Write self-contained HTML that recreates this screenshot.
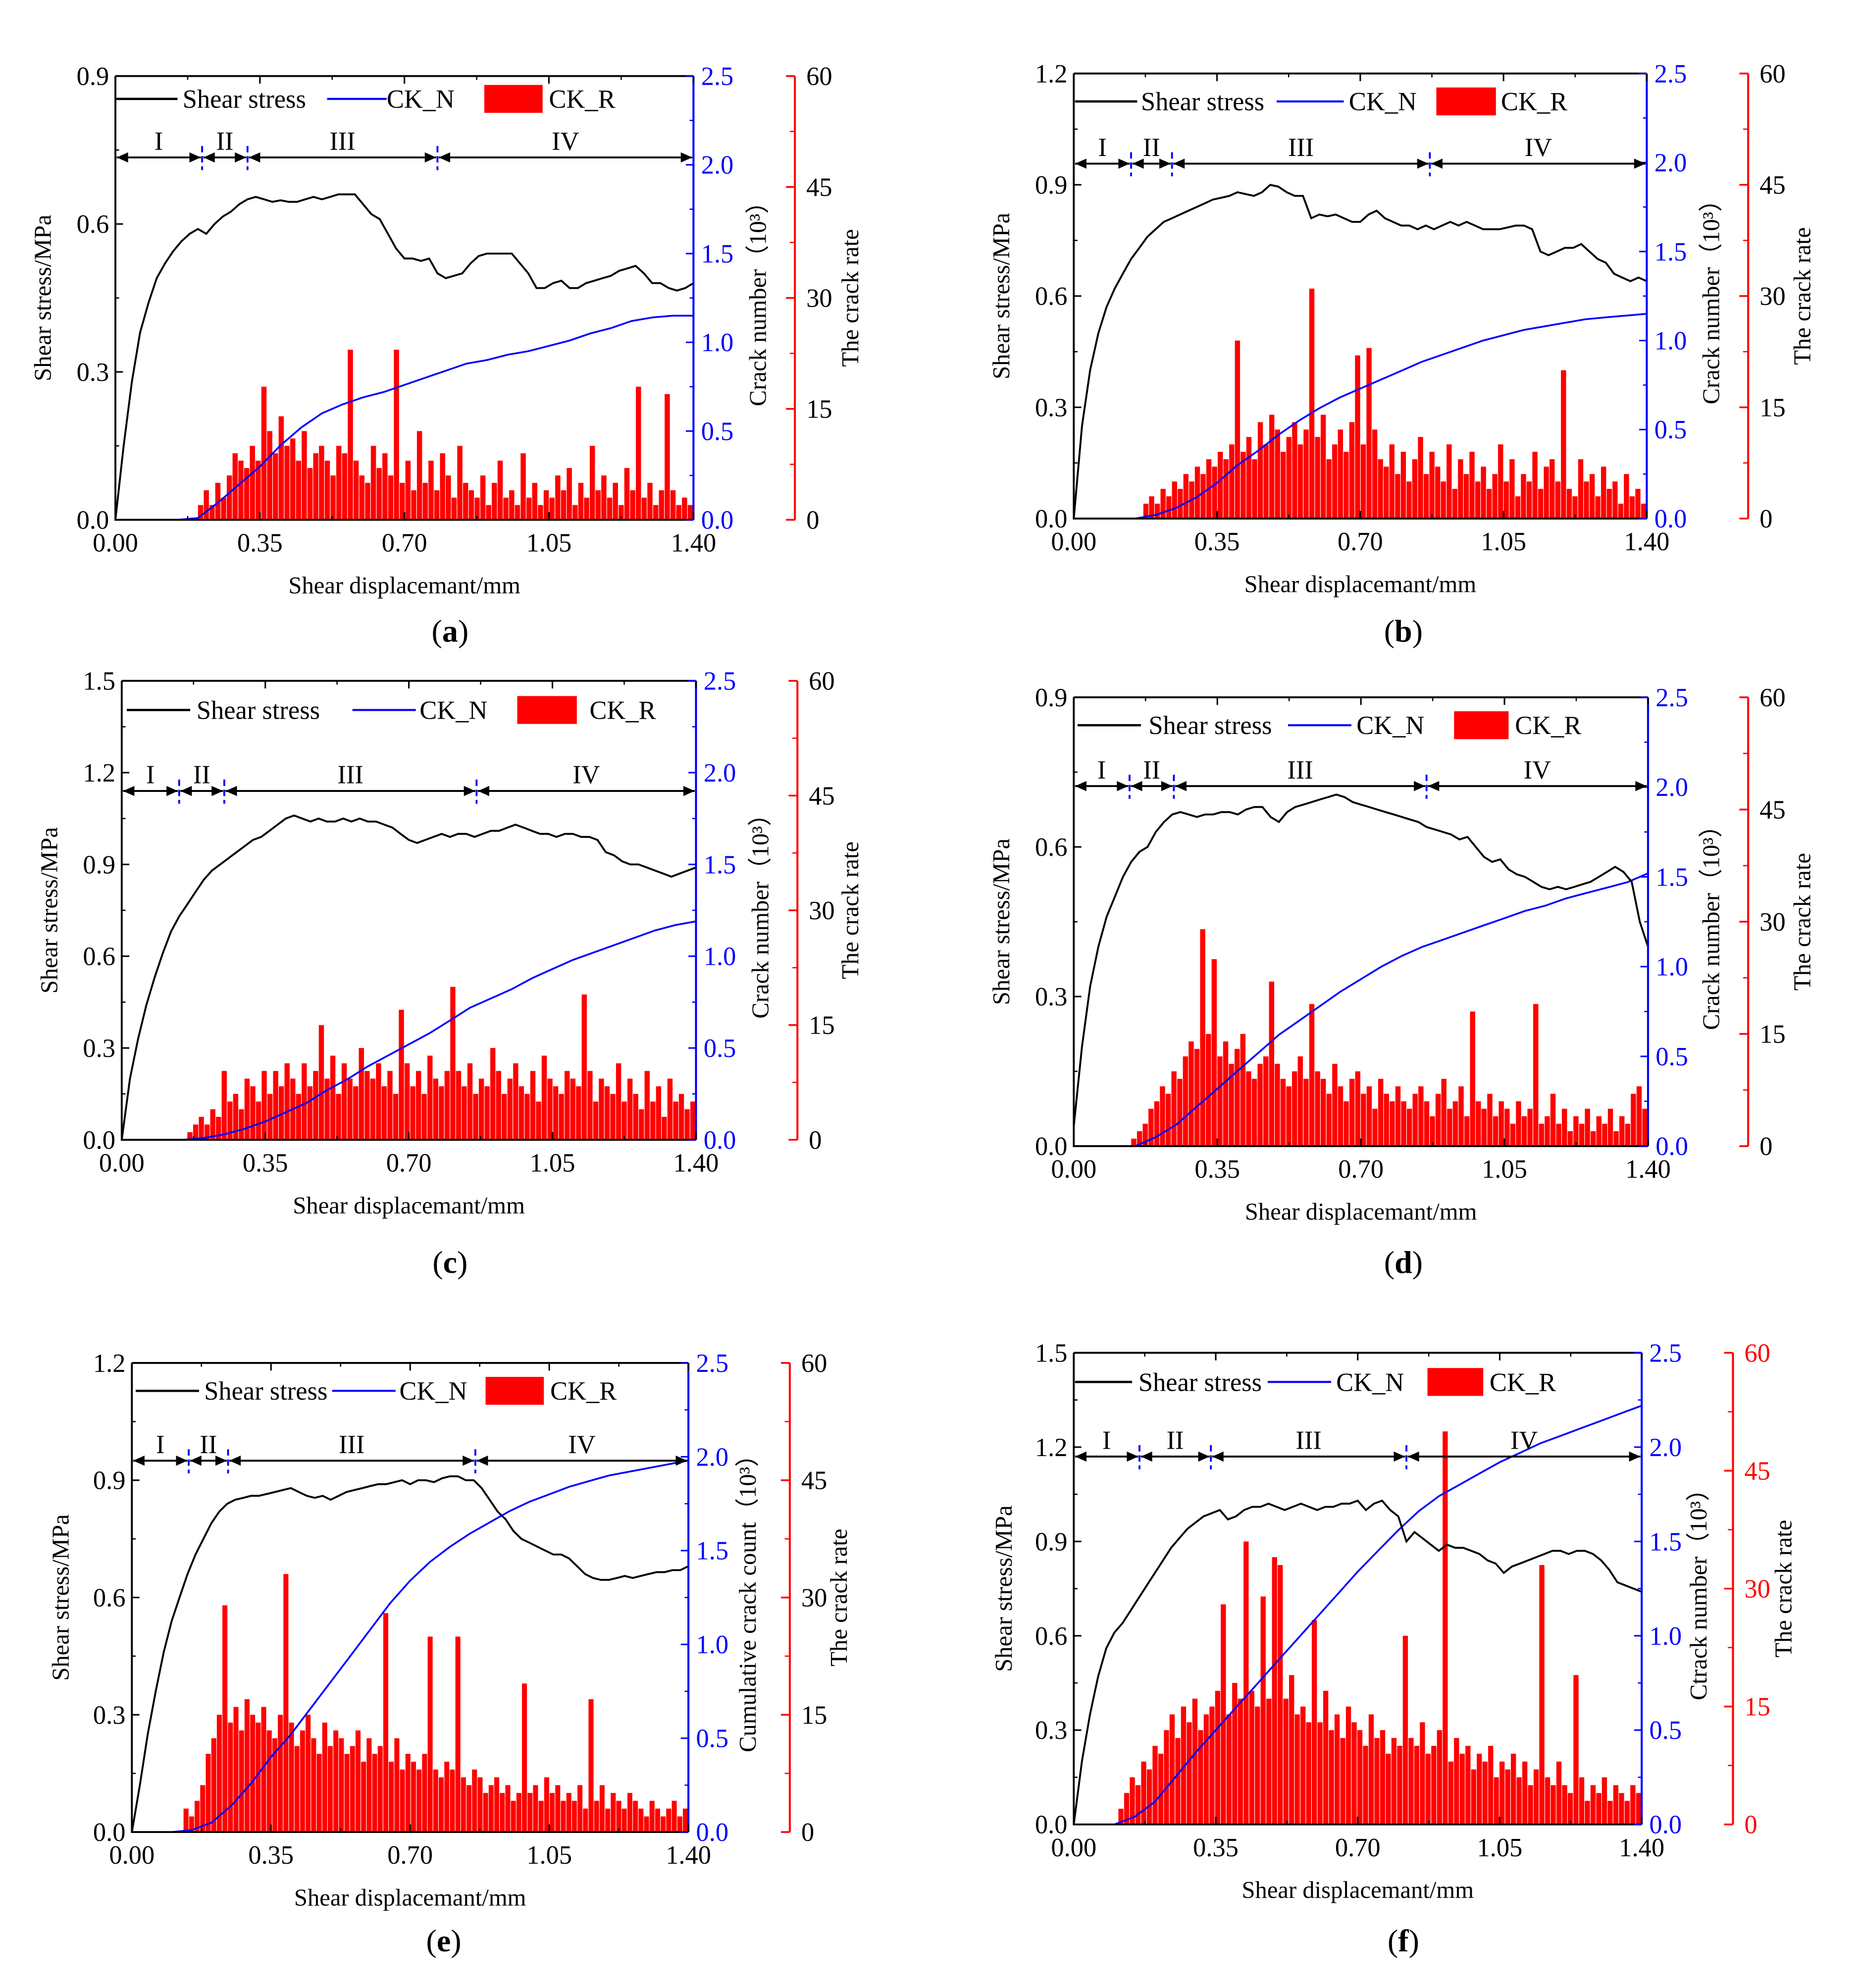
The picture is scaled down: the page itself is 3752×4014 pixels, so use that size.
<!DOCTYPE html>
<html><head><meta charset="utf-8"><style>
body{margin:0;background:#fff}
svg{display:block}
text{font-family:"Liberation Serif",serif}
</style></head><body>
<svg id="fig" xmlns="http://www.w3.org/2000/svg" width="3752" height="4014" viewBox="0 0 1465.6 1568"></svg>
<script>
// ---- data ----
const xTicks=["0.00","0.35","0.70","1.05","1.40"];
const stressA=[0,.15,.28,.38,.44,.49,.52,.545,.565,.58,.59,.58,.60,.615,.625,.64,.65,.655,.65,.645,.648,.645,.645,.65,.655,.65,.655,.66,.66,.66,.64,.62,.61,.58,.55,.53,.53,.525,.53,.50,.49,.495,.50,.52,.535,.54,.54,.54,.54,.52,.50,.47,.47,.48,.485,.47,.47,.48,.485,.49,.495,.505,.51,.515,.5,.48,.48,.47,.465,.47,.48];
const stressB=[0,.25,.4,.5,.57,.62,.66,.7,.73,.76,.78,.8,.81,.82,.83,.84,.85,.86,.865,.87,.88,.875,.87,.88,.9,.895,.88,.87,.87,.81,.82,.815,.82,.81,.8,.8,.82,.83,.81,.8,.79,.79,.78,.79,.78,.79,.8,.79,.8,.79,.78,.78,.78,.785,.79,.79,.78,.72,.71,.72,.73,.73,.74,.72,.7,.69,.66,.65,.64,.65,.64];
const stressC=[0,.2,.33,.44,.53,.61,.68,.73,.77,.81,.85,.88,.9,.92,.94,.96,.98,.99,1.01,1.03,1.05,1.06,1.05,1.04,1.05,1.04,1.04,1.05,1.04,1.05,1.04,1.04,1.03,1.02,1.0,.98,.97,.98,.99,1.0,.99,1.0,1.0,.99,1.0,1.01,1.01,1.02,1.03,1.02,1.01,1.0,1.0,.99,1.0,1.0,.99,.99,.98,.94,.93,.91,.9,.9,.89,.88,.87,.86,.87,.88,.89];
const stressD=[.04,.2,.32,.4,.46,.5,.54,.57,.59,.6,.63,.65,.665,.67,.665,.66,.665,.665,.67,.67,.665,.675,.68,.68,.66,.65,.67,.68,.685,.69,.695,.7,.705,.7,.69,.685,.68,.675,.67,.665,.66,.655,.65,.64,.635,.63,.625,.615,.62,.6,.58,.57,.575,.555,.545,.54,.53,.52,.515,.52,.515,.52,.525,.53,.54,.55,.56,.55,.53,.45,.4];
const stressE=[0,.12,.25,.36,.46,.54,.6,.66,.71,.75,.79,.82,.84,.85,.855,.86,.86,.865,.87,.875,.88,.87,.86,.855,.86,.85,.86,.87,.875,.88,.885,.89,.89,.895,.9,.89,.9,.9,.895,.905,.91,.91,.9,.9,.88,.85,.82,.8,.77,.75,.74,.73,.72,.71,.71,.7,.68,.66,.65,.645,.645,.65,.655,.65,.655,.66,.665,.665,.67,.67,.68];
const stressF=[0,.2,.35,.47,.56,.61,.64,.68,.72,.76,.8,.84,.88,.91,.94,.96,.98,.99,1.0,.97,.98,1.0,1.01,1.01,1.02,1.01,1.0,1.01,1.02,1.01,1.0,1.01,1.01,1.02,1.02,1.03,1.0,1.02,1.03,1.0,.98,.9,.93,.91,.89,.87,.89,.88,.88,.87,.86,.84,.83,.8,.82,.83,.84,.85,.86,.87,.87,.86,.87,.87,.86,.84,.81,.77,.76,.75,.74];
const ckNA=[0,0,0,0,0.01,.1,.2,.3,.42,.52,.6,.65,.69,.72,.76,.8,.84,.88,.9,.93,.95,.98,1.01,1.05,1.08,1.12,1.14,1.15,1.15];
const ckNB=[0,0,0,0,.02,.06,.12,.2,.3,.38,.47,.55,.62,.68,.73,.78,.83,.88,.92,.96,1.0,1.03,1.06,1.08,1.1,1.12,1.13,1.14,1.15];
const ckNC=[0,0,0,0,.01,.03,.06,.1,.15,.2,.27,.33,.4,.46,.52,.58,.65,.72,.77,.82,.88,.93,.98,1.02,1.06,1.1,1.14,1.17,1.19];
const ckND=[0,0,0,0,.05,.12,.22,.32,.42,.52,.62,.7,.78,.86,.93,1.0,1.06,1.11,1.15,1.19,1.23,1.27,1.31,1.34,1.38,1.41,1.44,1.47,1.52];
const ckNE=[0,0,0,.01,.05,.14,.26,.4,.52,.66,.8,.94,1.08,1.22,1.34,1.44,1.52,1.59,1.65,1.71,1.76,1.8,1.84,1.87,1.9,1.92,1.94,1.96,1.98];
const ckNF=[0,0,0,.04,.12,.25,.38,.5,.62,.74,.86,.98,1.1,1.22,1.34,1.45,1.56,1.66,1.74,1.8,1.86,1.92,1.97,2.02,2.06,2.1,2.14,2.18,2.22];
const ckRStart=[.2,.17,.16,.14,.13,.11];
const ckRA=[2,4,2,5,3,6,9,8,7,10,8,18,12,9,14,10,11,8,12,7,9,10,8,6,10,9,23,8,6,5,10,7,9,6,23,5,8,4,12,5,8,4,9,6,3,10,5,4,3,6,2,5,8,3,4,2,9,3,5,2,4,3,6,4,7,2,5,3,10,4,6,3,5,2,7,4,18,3,5,2,4,17,4,2,3,2];
const ckRB=[2,3,2,4,3,5,4,6,5,7,6,8,7,9,8,10,24,9,11,8,13,10,14,12,9,11,13,10,12,31,11,14,8,10,12,9,13,22,10,23,12,8,7,10,6,9,5,8,11,6,9,7,5,10,4,8,6,9,5,7,4,6,10,5,8,3,6,5,9,4,7,8,5,20,4,3,8,5,6,3,7,4,5,2,6,3,4,2];
const ckRC=[1,2,3,2,4,3,9,5,6,4,8,7,5,9,6,9,7,10,8,6,10,7,9,15,8,11,6,10,8,7,12,9,8,10,7,9,6,17,10,7,9,6,11,8,7,9,20,9,7,10,6,8,7,12,9,6,8,10,7,6,9,5,11,8,7,6,9,8,7,19,9,5,8,7,6,10,5,8,6,4,9,5,7,3,8,5,6,4,5];
const ckRD=[1,2,3,5,6,8,7,10,9,12,14,13,29,15,25,12,14,11,13,15,10,9,11,12,22,11,9,8,10,12,9,19,10,9,7,11,8,6,9,10,7,8,5,9,7,6,8,6,5,7,8,6,4,7,9,5,6,8,4,18,6,5,7,4,6,5,3,6,4,5,19,3,4,7,3,5,2,4,3,5,2,4,3,5,2,4,3,7,8,5];
const ckRE=[3,2,4,6,10,12,15,29,14,16,13,17,15,14,16,13,12,15,33,14,11,13,15,12,10,14,11,13,12,10,11,13,9,12,10,11,28,9,12,8,10,9,8,10,25,8,7,9,8,25,7,6,8,7,5,6,7,5,6,4,5,19,5,6,4,7,5,6,4,5,4,6,3,17,4,6,3,5,4,3,5,4,3,2,4,3,2,3,4,2,3];
const ckRF=[2,4,6,5,8,7,10,9,12,14,11,15,13,16,12,14,15,17,28,14,18,16,36,17,15,29,16,34,33,16,19,14,15,13,26,13,17,12,14,11,15,13,12,10,14,11,12,9,11,10,24,11,10,13,9,10,12,50,8,11,9,10,7,9,8,10,6,8,7,9,6,8,5,7,33,6,5,8,5,4,19,6,3,5,4,6,3,5,4,3,5,4];
const stages=[[.21,.32,.78],[.14,.24,.87],[.14,.25,.865],[.136,.244,.86],[.143,.242,.864],[.162,.338,.82]];
const stageY=[.735,.957,1.14,.722,.95,1.17];
const yMax=[0.9,1.2,1.5,0.9,1.2,1.5];

// ---- layout (non-data) ----
const P=[
 {id:'a',x0:91,x1:547,y0:60,y1:410,red:627,lt:40,ct:604,rt:677,lab:355,ly:497,leg:[91,140,144,258,305,305,382,428,433,78],s:stressA,n:ckNA,r:ckRA,ctit:'Crack number（10³）'},
 {id:'b',x0:847,x1:1299,y0:58,y1:409,red:1379,lt:796,ct:1356,rt:1428,lab:1107,ly:497,leg:[848,897,900,1007,1060,1064,1133,1180,1184,80],s:stressB,n:ckNB,r:ckRB,ctit:'Crack number（10³）'},
 {id:'c',x0:96,x1:549,y0:537,y1:899,red:629,lt:45,ct:606,rt:677,lab:355,ly:995,leg:[100,150,155,278,328,331,408,455,465,560],s:stressC,n:ckNC,r:ckRC,ctit:'Crack number（10³）'},
 {id:'d',x0:847,x1:1300,y0:550,y1:904,red:1379,lt:796,ct:1356,rt:1428,lab:1107,ly:995,leg:[850,900,906,1016,1066,1070,1147,1190,1195,572],s:stressD,n:ckND,r:ckRD,ctit:'Crack number（10³）'},
 {id:'e',x0:104,x1:543,y0:1075,y1:1445,red:623,lt:54,ct:596,rt:668,lab:350,ly:1530,leg:[107,157,161,262,312,315,383,429,434,1097],s:stressE,n:ckNE,r:ckRE,ctit:'Cumulative crack count（10³）'},
 {id:'f',x0:847,x1:1295,y0:1067,y1:1439,red:1367,lt:798,ct:1346,rt:1413,lab:1107,ly:1530,leg:[848,893,898,1000,1050,1054,1126,1170,1175,1090],s:stressF,n:ckNF,r:ckRF,ctit:'Ctrack number（10³）',redLab:true}
];
const FS=20.5, TS=19;
const NS='http://www.w3.org/2000/svg';
const svg=document.getElementById('fig');
function el(tag,attrs,parent,txt){const e=document.createElementNS(NS,tag);for(const k in attrs)e.setAttribute(k,attrs[k]);if(txt!==undefined)e.textContent=txt;(parent||svg).appendChild(e);return e;}

P.forEach((p,pi)=>{
 const g=el('g',{});
 
 
 const W=p.x1-p.x0,H=p.y1-p.y0;
 const sx=v=>p.x0+v/1.4*W;
 const syL=v=>p.y1-v/yMax[pi]*H;
 const syN=v=>p.y1-v/2.5*H;
 const syR=v=>p.y1-v/60*H;
 const bg=el('g',{fill:'#ff0000'},g);
 
 
 const st=ckRStart[pi];
 const step=(1.4-st)/p.r.length;
 p.r.forEach((v,i)=>{ if(v<=0) return;
  const b=el('rect',{x:sx(st+i*step),y:syR(v),width:step/1.4*W*0.9,height:p.y1-syR(v)},bg);
  
  
 });
 const nl=el('polyline',{fill:'none',stroke:'#0000ff','stroke-width':1.4,points:p.n.map((v,i)=>sx(i*0.05).toFixed(1)+','+syN(v).toFixed(1)).join(' ')},g);
 
 
 const sl=el('polyline',{fill:'none',stroke:'#000','stroke-width':1.5,points:p.s.map((v,i)=>sx(i*0.02).toFixed(1)+','+syL(v).toFixed(1)).join(' ')},g);
 
 
 el('path',{d:`M${p.x0},${p.y0}H${p.x1}M${p.x0},${p.y0}V${p.y1}H${p.x1}`,stroke:'#000','stroke-width':1.5,fill:'none'},g);
 el('line',{x1:p.x1,y1:p.y0,x2:p.x1,y2:p.y1,stroke:'#0000ff','stroke-width':1.6},g);
 el('line',{x1:p.red,y1:p.y0,x2:p.red,y2:p.y1,stroke:'#ff0000','stroke-width':1.6},g);
 xTicks.forEach((t,i)=>{const x=sx(i*0.35);
  el('line',{x1:x,y1:p.y1,x2:x,y2:p.y1-6,stroke:'#000','stroke-width':1.2},g);
  el('line',{x1:x,y1:p.y0,x2:x,y2:p.y0+6,stroke:'#000','stroke-width':1.2},g);
  if(i<4){const xm=sx(i*0.35+0.175);el('line',{x1:xm,y1:p.y1,x2:xm,y2:p.y1-3,stroke:'#000'},g);el('line',{x1:xm,y1:p.y0,x2:xm,y2:p.y0+3,stroke:'#000'},g);}
  el('text',{x:x,y:p.y1+25,'font-size':FS,'text-anchor':'middle'},g,t);
 });
 const nT=Math.round(yMax[pi]/0.3);
 for(let i=0;i<=nT;i++){const v=i*0.3;
  const y=syL(v);
  el('line',{x1:p.x0,y1:y,x2:p.x0+6,y2:y,stroke:'#000','stroke-width':1.2},g);
  if(i<nT){const ym=syL(v+0.15);el('line',{x1:p.x0,y1:ym,x2:p.x0+3,y2:ym,stroke:'#000'},g);}
  el('text',{x:p.x0-5,y:y+7,'font-size':FS,'text-anchor':'end'},g,v.toFixed(1));
 }
 for(let i=0;i<=5;i++){const v=i*0.5,y=syN(v);
  el('line',{x1:p.x1,y1:y,x2:p.x1-6,y2:y,stroke:'#0000ff','stroke-width':1.2},g);
  if(i<5){const ym=syN(v+0.25);el('line',{x1:p.x1,y1:ym,x2:p.x1-3,y2:ym,stroke:'#0000ff'},g);}
  el('text',{x:p.x1+6,y:y+7,'font-size':FS,fill:'#0000ff'},g,v.toFixed(1));
 }
 for(let i=0;i<=4;i++){const v=i*15,y=syR(v);
  el('line',{x1:p.red,y1:y,x2:p.red-7,y2:y,stroke:'#ff0000','stroke-width':1.4},g);
  if(i<4){const ym=syR(v+7.5);el('line',{x1:p.red,y1:ym,x2:p.red-4,y2:ym,stroke:'#ff0000'},g);}
  el('text',{x:p.red+9,y:y+7,'font-size':FS,fill:p.redLab?'#ff0000':'#000'},g,String(v));
 }
 const my=(p.y0+p.y1)/2;
 el('text',{x:p.lt,y:my,'font-size':TS,'text-anchor':'middle',transform:`rotate(-90 ${p.lt} ${my})`},g,'Shear stress/MPa');
 el('text',{x:p.ct,y:my,'font-size':TS,'text-anchor':'middle',transform:`rotate(-90 ${p.ct} ${my})`},g,p.ctit);
 el('text',{x:p.rt,y:my,'font-size':TS,'text-anchor':'middle',transform:`rotate(-90 ${p.rt} ${my})`},g,'The crack rate');
 el('text',{x:(p.x0+p.x1)/2,y:p.y1+58,'font-size':TS,'text-anchor':'middle'},g,'Shear displacemant/mm');
 const pl=el('text',{x:p.lab,y:p.ly+9,'font-size':25,'text-anchor':'middle'},g);
 el('tspan',{},pl,'(');el('tspan',{'font-weight':'bold'},pl,p.id);el('tspan',{},pl,')');
 const L=p.leg;
 el('line',{x1:L[0],y1:L[9],x2:L[1],y2:L[9],stroke:'#000','stroke-width':1.8},g);
 el('text',{x:L[2],y:L[9]+7,'font-size':FS},g,'Shear stress');
 el('line',{x1:L[3],y1:L[9],x2:L[4],y2:L[9],stroke:'#0000ff','stroke-width':1.6},g);
 el('text',{x:L[5],y:L[9]+7,'font-size':FS},g,'CK_N');
 el('rect',{x:L[6],y:L[9]-11,width:L[7]-L[6],height:22,fill:'#ff0000'},g);
 el('text',{x:L[8],y:L[9]+7,'font-size':FS},g,'CK_R');
 const sy=syL(stageY[pi]);
 const bnd=[0,...stages[pi],1.4];
 const names=['I','II','III','IV'];
 for(let k=0;k<4;k++){
  const a=sx(bnd[k])+1,b=sx(bnd[k+1])-1;
  el('line',{x1:a,y1:sy,x2:b,y2:sy,stroke:'#000','stroke-width':1.5},g);
  el('path',{d:`M${a},${sy}l9,-4v8z M${b},${sy}l-9,-4v8z`,fill:'#000'},g);
  el('text',{x:(a+b)/2,y:sy-6,'font-size':FS,'text-anchor':'middle'},g,names[k]);
 }
 stages[pi].forEach(v=>{el('line',{x1:sx(v),y1:sy-9,x2:sx(v),y2:sy+10,stroke:'#0000ff','stroke-width':1.5,'stroke-dasharray':'5,3'},g);});
});
</script>
</body></html>
